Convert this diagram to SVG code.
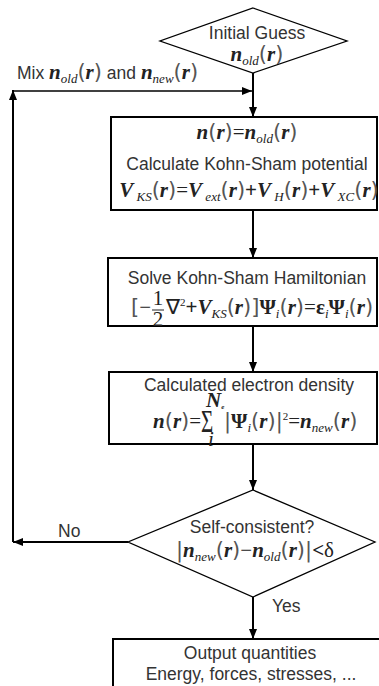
<svg xmlns="http://www.w3.org/2000/svg" width="379" height="686" viewBox="0 0 379 686">
<style>
.bg{fill:#fff}
.box{fill:#fff;stroke:#000;stroke-width:2}
.dia{fill:#fff;stroke:#000;stroke-width:1.3}
.c{fill:none;stroke:#000;stroke-width:2}
.c1{fill:none;stroke:#000;stroke-width:1.6}
.t{font-family:"Liberation Sans",Arial,sans-serif;font-size:17.5px;fill:#333}
.m{font-family:"Liberation Serif","Times New Roman",serif;font-size:21px;fill:#222}
.v{font-style:italic;font-weight:bold}
.s{font-size:13px;font-style:italic;font-weight:normal}
.p{font-family:"DejaVu Sans",sans-serif;font-weight:normal;font-style:normal;fill:#555;font-size:21px}
.mid{text-anchor:middle}
</style>
<defs>
<marker id="ah" viewBox="0 0 10 8" refX="10" refY="4" markerWidth="10" markerHeight="8" markerUnits="userSpaceOnUse" orient="auto">
<path d="M0,0 L10,4 L0,8 Z" fill="#000"/>
</marker>
</defs>
<rect class="bg" x="0" y="0" width="379" height="686"/>

<g id="connectors">
<path class="c" d="M253,73 V117" marker-end="url(#ah)"/>
<path class="c" d="M253,210 V258" marker-end="url(#ah)"/>
<path class="c" d="M253,326 V372" marker-end="url(#ah)"/>
<path class="c" d="M253,444 V490" marker-end="url(#ah)"/>
<path class="c" d="M253,597 V639" marker-end="url(#ah)"/>
<path class="c" d="M128,542 H13" marker-end="url(#ah)"/>
<path class="c" d="M13,542 V90" marker-end="url(#ah)"/>
<path class="c1" d="M12,91 H252" marker-end="url(#ah)"/>
<text class="t" x="17" y="79">Mix <tspan class="m v">n</tspan><tspan class="m s" dy="4">old</tspan><tspan class="p" dy="-4">(</tspan><tspan class="m v">r</tspan><tspan class="p">)</tspan> and <tspan class="m v">n</tspan><tspan class="m s" dy="4">new</tspan><tspan class="p" dy="-4">(</tspan><tspan class="m v">r</tspan><tspan class="p">)</tspan></text>
<text class="t" x="58" y="537">No</text>
<text class="t" x="272" y="612">Yes</text>
</g>

<g id="initial-guess">
<polygon class="dia" points="253,8 347,41 253,73 160,41"/>
<text class="t mid" x="257" y="39">Initial Guess</text>
<text class="m mid" x="257" y="61"><tspan class="v">n</tspan><tspan class="s" dy="4">old</tspan><tspan class="p" dy="-4">(</tspan><tspan class="v">r</tspan><tspan class="p">)</tspan></text>
</g>

<g id="ks-potential">
<rect class="box" x="111" y="117" width="266" height="93"/>
<text class="m mid" x="247" y="139"><tspan class="v">n</tspan><tspan class="p">(</tspan><tspan class="v">r</tspan><tspan class="p">)</tspan>=<tspan class="v">n</tspan><tspan class="s" dy="4">old</tspan><tspan class="p" dy="-4">(</tspan><tspan class="v">r</tspan><tspan class="p">)</tspan></text>
<text class="t mid" x="247" y="170">Calculate Kohn-Sham potential</text>
<text class="m mid" x="249" y="197" font-size="19.5"><tspan class="v">V</tspan><tspan class="s" dy="4"> KS</tspan><tspan class="p" dy="-4" font-size="20">(</tspan><tspan class="v">r</tspan><tspan class="p" font-size="20">)</tspan>=<tspan class="v">V</tspan><tspan class="s" dy="4"> ext</tspan><tspan class="p" dy="-4" font-size="20">(</tspan><tspan class="v">r</tspan><tspan class="p" font-size="20">)</tspan><tspan font-weight="bold">+</tspan><tspan class="v">V</tspan><tspan class="s" dy="4"> H</tspan><tspan class="p" dy="-4" font-size="20">(</tspan><tspan class="v">r</tspan><tspan class="p" font-size="20">)</tspan><tspan font-weight="bold">+</tspan><tspan class="v">V</tspan><tspan class="s" dy="4"> XC</tspan><tspan class="p" dy="-4" font-size="20">(</tspan><tspan class="v">r</tspan><tspan class="p" font-size="20">)</tspan></text>
</g>

<g id="ks-hamiltonian">
<rect class="box" x="108" y="258" width="269" height="68"/>
<text class="t mid" x="247" y="284">Solve Kohn-Sham Hamiltonian</text>
<text class="m" x="131" y="314"><tspan class="p">[</tspan>−</text>
<text class="m mid" x="158" y="305" font-size="16">1</text>
<line x1="152" y1="310" x2="164" y2="310" stroke="#222" stroke-width="1"/>
<text class="m mid" x="158" y="326" font-size="16">2</text>
<text class="m" x="166" y="314" font-size="19.5">∇<tspan font-size="11" dy="-8">2</tspan><tspan font-weight="bold" dy="8">+</tspan><tspan class="v">V</tspan><tspan class="s" dy="4">KS</tspan><tspan class="p" dy="-4" font-size="20">(</tspan><tspan class="v">r</tspan><tspan class="p" font-size="20">)]</tspan><tspan font-weight="bold">Ψ</tspan><tspan class="s" dy="4">i</tspan><tspan class="p" dy="-4" font-size="20">(</tspan><tspan class="v">r</tspan><tspan class="p" font-size="20">)</tspan>=<tspan font-weight="bold">ε</tspan><tspan class="s" dy="4">i</tspan><tspan font-weight="bold" dy="-4">Ψ</tspan><tspan class="s" dy="4">i</tspan><tspan class="p" dy="-4" font-size="20">(</tspan><tspan class="v">r</tspan><tspan class="p" font-size="20">)</tspan></text>
</g>

<g id="electron-density">
<rect class="box" x="109" y="372" width="268" height="72"/>
<text class="t mid" x="249" y="391">Calculated electron density</text>
<text class="m" x="153" y="428" font-size="20"><tspan class="v">n</tspan><tspan class="p" font-size="20">(</tspan><tspan class="v">r</tspan><tspan class="p" font-size="20">)</tspan>=</text>
<text transform="translate(201,432) scale(0.75,1.15)" font-family="'Liberation Serif',serif" font-size="28" fill="#222">Σ</text>
<text class="m" x="206" y="407" font-size="10" font-style="italic" font-weight="bold">N<tspan font-size="7" dy="2">e</tspan></text>
<text class="m" x="208" y="446" font-size="11" font-style="italic">i</text>
<text class="m" x="224" y="428" font-size="20"><tspan class="p" font-size="20">|</tspan><tspan font-weight="bold">Ψ</tspan><tspan class="s" dy="4">i</tspan><tspan class="p" dy="-4" font-size="20">(</tspan><tspan class="v">r</tspan><tspan class="p" font-size="20">)|</tspan><tspan font-size="11" dy="-8">2</tspan><tspan dy="8">=</tspan><tspan class="v">n</tspan><tspan class="s" dy="4">new</tspan><tspan class="p" dy="-4" font-size="20">(</tspan><tspan class="v">r</tspan><tspan class="p" font-size="20">)</tspan></text>
</g>

<g id="self-consistent">
<polygon class="dia" points="253,490 375,542 253,597 128,542"/>
<text class="t mid" x="252" y="533">Self-consistent?</text>
<text class="m mid" x="255" y="557" font-size="20"><tspan class="p" font-size="20">|</tspan><tspan class="v">n</tspan><tspan class="s" dy="4">new</tspan><tspan class="p" dy="-4" font-size="20">(</tspan><tspan class="v">r</tspan><tspan class="p" font-size="20">)</tspan>−<tspan class="v">n</tspan><tspan class="s" dy="4">old</tspan><tspan class="p" dy="-4" font-size="20">(</tspan><tspan class="v">r</tspan><tspan class="p" font-size="20">)|</tspan><tspan font-weight="bold">&lt;</tspan>δ</text>
</g>

<g id="output">
<rect class="box" x="113" y="639" width="280" height="60"/>
<text class="t mid" x="250" y="659">Output quantities</text>
<text class="t mid" x="251" y="680">Energy, forces, stresses, ...</text>
</g>
</svg>
